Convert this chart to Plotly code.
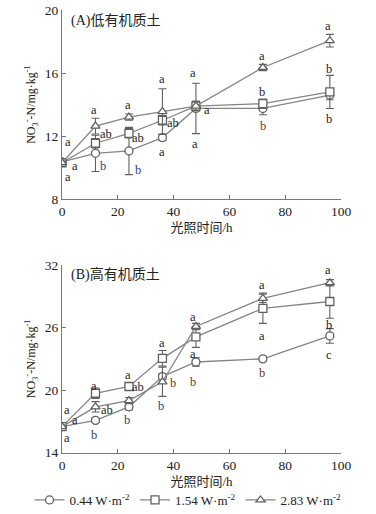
import plotly.graph_objects as go

hours = [0, 12, 24, 36, 48, 72, 96]

# Panel A: low organic matter soil
a_low = [10.35, 10.9, 11.05, 11.9, 13.75, 13.75, 14.6]
a_low_err = [0.1, 1.15, 1.5, 0.2, 1.6, 0.4, 0.3]
a_mid = [10.3, 11.54, 12.17, 13.0, 13.9, 14.05, 14.8]
a_mid_err = [0.1, 0.3, 0.3, 0.3, 0.3, 0.3, 1.05]
a_high = [10.3, 12.63, 13.2, 13.55, 13.9, 16.35, 18.05]
a_high_err = [0.1, 0.5, 0.2, 1.45, 0.3, 0.2, 0.4]

# Panel B: high organic matter soil
b_low = [16.5, 17.1, 18.4, 21.3, 22.7, 23.0, 25.2]
b_low_err = [0.1, 0.2, 0.3, 0.3, 0.4, 0.2, 0.7]
b_mid = [16.5, 19.7, 20.35, 23.05, 25.1, 27.85, 28.5]
b_mid_err = [0.1, 0.5, 0.3, 0.75, 1.0, 1.45, 1.6]
b_high = [16.5, 18.4, 19.0, 20.8, 26.1, 28.8, 30.3]
b_high_err = [0.1, 0.5, 0.3, 1.4, 0.3, 0.4, 0.3]

series_names = ["0.44 W·m<sup>-2</sup>", "1.54 W·m<sup>-2</sup>", "2.83 W·m<sup>-2</sup>"]
symbols = ["circle", "square", "triangle-up"]

# significance letters: (x, y, text, color)
letters_a = [
    (2.3, 11.6, "a", "k"), (4.7, 10.1, "a", "k"), (2.0, 9.38, "a", "k"),
    (11.6, 13.65, "a", "k"), (15.8, 12.13, "ab", "k"), (14.8, 10.1, "b", "b"),
    (23.5, 13.95, "a", "k"), (27.4, 11.9, "ab", "k"), (27.1, 9.85, "b", "b"),
    (35.7, 15.6, "a", "k"), (39.7, 12.8, "ab", "k"), (35.7, 11.0, "a", "k"),
    (46.8, 15.98, "a", "k"), (51.9, 13.65, "a", "k"), (47.7, 11.5, "a", "k"),
    (71.8, 17.1, "a", "k"), (71.8, 14.8, "b", "k"), (71.9, 12.63, "b", "r"),
    (95.5, 18.98, "a", "k"), (95.7, 16.23, "b", "k"), (95.7, 13.1, "b", "k"),
]
letters_b = [
    (1.7, 18.1, "a", "k"), (4.7, 17.1, "a", "k"), (1.9, 15.4, "a", "k"),
    (11.6, 20.4, "a", "k"), (16.2, 18.1, "ab", "k"), (11.6, 15.65, "b", "b"),
    (23.5, 21.45, "a", "k"), (27.4, 20.3, "ab", "k"), (23.2, 17.1, "b", "b"),
    (35.7, 24.5, "a", "k"), (39.7, 20.7, "b", "r"), (35.5, 18.5, "b", "b"),
    (46.8, 27.0, "a", "k"), (47.1, 23.5, "a", "k"), (47.1, 20.8, "b", "r"),
    (71.8, 30.1, "a", "k"), (71.8, 25.2, "a", "k"), (71.8, 21.6, "b", "r"),
    (95.2, 31.5, "a", "k"), (95.7, 26.2, "b", "k"), (95.7, 23.4, "c", "k"),
]
letter_colors = {"k": "#222222", "b": "#2b3f7a", "r": "#6b3a1e"}

SERIF = "Liberation Serif, Times New Roman, Noto Sans CJK SC, serif"
LINE = "#858585"
MK = "#606060"

fig = go.Figure()

panel_data = [
    ("x", "y", [a_low, a_mid, a_high], [a_low_err, a_mid_err, a_high_err], True),
    ("x2", "y2", [b_low, b_mid, b_high], [b_low_err, b_mid_err, b_high_err], False),
]
for xa, ya, vals, errs, show in panel_data:
    for i in range(3):
        fig.add_trace(go.Scatter(
            x=hours, y=vals[i], xaxis=xa, yaxis=ya,
            mode="lines+markers", name=series_names[i], showlegend=show,
            line=dict(color=LINE, width=1.3),
            marker=dict(symbol=symbols[i], size=8, color="white",
                        line=dict(color=MK, width=1.3)),
            error_y=dict(type="data", array=errs[i], color=MK,
                         thickness=1.1, width=4),
        ))

annotations = []
for xr, yr, letters in [("x", "y", letters_a), ("x2", "y2", letters_b)]:
    for lx, ly, t, c in letters:
        annotations.append(dict(x=lx, y=ly, xref=xr, yref=yr, text=t,
                                showarrow=False,
                                font=dict(family=SERIF, size=12.5, color=letter_colors[c])))

annotations += [
    dict(x=2.5, y=19.3, xref="x", yref="y", text="(A)低有机质土", showarrow=False,
         xanchor="left", font=dict(family=SERIF, size=14, color="#222")),
    dict(x=2.5, y=31.05, xref="x2", yref="y2", text="(B)高有机质土", showarrow=False,
         xanchor="left", font=dict(family=SERIF, size=14, color="#222")),
]

xdom = [62 / 376, 341 / 376]
axis_common = dict(showline=True, linecolor="#777", linewidth=1.2, ticks="inside",
                   ticklen=4, tickcolor="#777", showgrid=False, zeroline=False,
                   tickfont=dict(family=SERIF, size=13.5, color="#222"),
                   mirror=False, automargin=False)

ytitle = "NO<sub>3</sub><sup>-</sup>-N/mg·kg<sup>-1</sup>"
xtitle = "光照时间/h"

fig.update_layout(
    width=376, height=514,
    margin=dict(l=0, r=0, t=0, b=0, autoexpand=False),
    paper_bgcolor="white", plot_bgcolor="white",
    xaxis=dict(domain=xdom, range=[0, 100], tickvals=[0, 20, 40, 60, 80, 100],
               anchor="y", title=dict(text=xtitle, standoff=4,
                                      font=dict(family=SERIF, size=13, color="#222")),
               **axis_common),
    yaxis=dict(domain=[1 - 199 / 514, 1 - 10 / 514], range=[8, 20],
               tickvals=[8, 12, 16, 20], anchor="x",
               title=dict(text=ytitle, standoff=6,
                          font=dict(family=SERIF, size=12, color="#222")),
               **axis_common),
    xaxis2=dict(domain=xdom, range=[0, 100], tickvals=[0, 20, 40, 60, 80, 100],
                anchor="y2", title=dict(text=xtitle, standoff=4,
                                        font=dict(family=SERIF, size=13, color="#222")),
                **axis_common),
    yaxis2=dict(domain=[1 - 452.7 / 514, 1 - 265 / 514], range=[14, 32],
                tickvals=[14, 20, 26, 32], anchor="x2",
                title=dict(text=ytitle, standoff=6,
                           font=dict(family=SERIF, size=12, color="#222")),
                **axis_common),
    legend=dict(orientation="h", x=0.5, xanchor="center", y=14 / 514, yanchor="middle",
                font=dict(family=SERIF, size=13, color="#222"),
                itemwidth=30, tracegroupgap=0, bgcolor="rgba(0,0,0,0)"),
    annotations=annotations,
)

fig.write_html("out.html", config={"displayModeBar": False},
               post_script="document.body.style.margin='0';document.body.style.overflow='hidden';")
